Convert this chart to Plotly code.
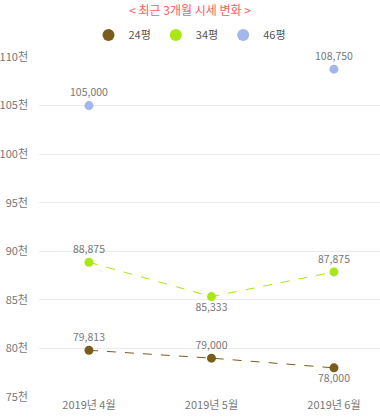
import plotly.graph_objects as go

months = ["2019년 4월", "2019년 5월", "2019년 6월"]
s24 = [79813, 79000, 78000]
s34 = [88875, 85333, 87875]
s46 = [105000, None, 108750]
tick_vals = [75000, 80000, 85000, 90000, 95000, 100000, 105000, 110000]
tick_text = ["75천", "80천", "85천", "90천", "95천", "100천", "105천", "110천"]

FONT = "Noto Sans CJK KR, Noto Sans, sans-serif"

def fmt(v):
    return "" if v is None else f"{v:,}"

fig = go.Figure()
series = [
    ("24평", s24, "#7a5d1c", ["top center", "top center", "bottom center"]),
    ("34평", s34, "#a9e812", ["top center", "bottom center", "top center"]),
    ("46평", s46, "#a3b7ee", ["top center", "top center", "top center"]),
]
for name, vals, color, pos in series:
    fig.add_trace(go.Scatter(
        x=months, y=vals, name=name, mode="lines+markers+text",
        line=dict(color=color, width=1, dash="dash"),
        marker=dict(color=color, size=9),
        text=[fmt(v) for v in vals], textposition=pos,
        textfont=dict(size=10.5, color="#777777", family=FONT),
        connectgaps=False, cliponaxis=False, legendgroup=name, showlegend=False,
    ))
    # legend entry showing marker only
    fig.add_trace(go.Scatter(
        x=[None], y=[None], name=name, mode="markers",
        marker=dict(color=color, size=10), legendgroup=name, showlegend=True,
    ))

fig.update_layout(
    width=380, height=420,
    margin=dict(l=39, r=0, t=57, b=23, autoexpand=False),
    paper_bgcolor="white", plot_bgcolor="white",
    font=dict(family=FONT, color="#777777", size=11),
    title=dict(text="< 최근 3개월 시세 변화 >", x=0.5, xref="container", xanchor="center",
               y=1 - 11/420, yref="container", yanchor="middle",
               font=dict(size=12, color="#ff5c5c", family=FONT)),
    legend=dict(orientation="h", x=0.5, xref="container", xanchor="center",
                y=1 - 35/420, yref="container", yanchor="middle",
                font=dict(size=11, color="#555555", family=FONT),
                itemwidth=30, itemsizing="constant", tracegroupgap=0),
    showlegend=True,
)
fig.update_xaxes(type="category", range=[-0.408, 2.376], showgrid=False, zeroline=False,
                 showline=False, ticks="", automargin=False,
                 tickfont=dict(size=11, color="#777777"))
fig.update_yaxes(range=[75000, 110000], tickvals=tick_vals, ticktext=tick_text,
                 showgrid=True, gridcolor="#ebebeb", gridwidth=1, zeroline=False,
                 showline=False, ticks="", ticklabelstandoff=10, automargin=False,
                 tickfont=dict(size=11, color="#777777"))
fig.write_html("out.html", config={"displayModeBar": False},
               post_script="document.body.style.margin='0';")
